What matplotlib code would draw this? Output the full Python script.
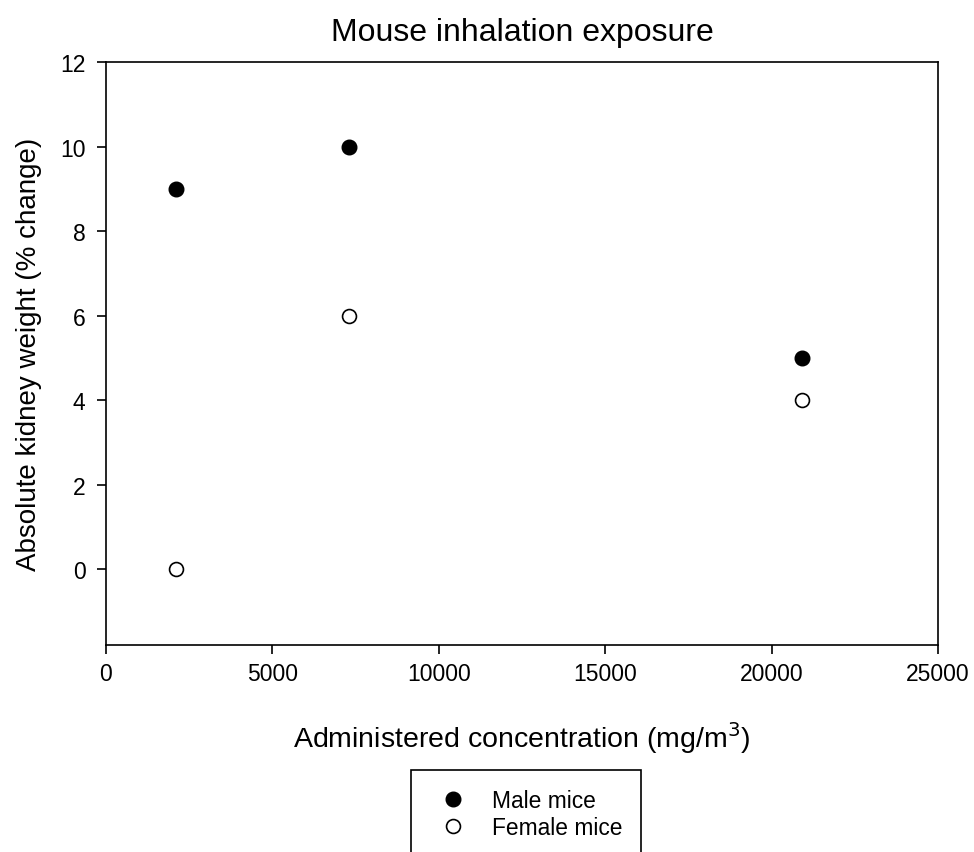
import matplotlib
matplotlib.use("Agg")
import matplotlib.pyplot as plt
from matplotlib.patches import Rectangle

plt.rcParams['font.family'] = ['Liberation Sans', 'DejaVu Sans']

# data
conc = [2100, 7300, 20900]
male = [9, 10, 5]
female = [0, 6, 4]
xticks = [0, 5000, 10000, 15000, 20000, 25000]
yticks = [0, 2, 4, 6, 8, 10, 12]

fig = plt.figure(figsize=(9.74, 8.53), dpi=100)
ax = fig.add_axes([0.1085, 0.2427, 0.8547, 0.6831])

ax.plot(conc, male, 'o', color='black', markersize=10.5, label='Male mice')
ax.plot(conc, female, 'o', markerfacecolor='white', markeredgecolor='black',
        markeredgewidth=1.2, markersize=10, label='Female mice')

ax.set_xlim(0, 25000)
ax.set_ylim(-1.8, 12)
ax.set_xticks(xticks)
ax.set_yticks(yticks)
ax.tick_params(direction='out', length=6.5, width=1.2, labelsize=16.5)
ax.tick_params(axis='x', pad=6)
ax.tick_params(axis='y', pad=8)
for s in ax.spines.values():
    s.set_linewidth(1.2)

ax.set_title('Mouse inhalation exposure', fontsize=23, pad=16)
ax.set_xlabel('Administered concentration (mg/m$^3$)', fontsize=20.5, labelpad=24)
ax.set_ylabel('Absolute kidney weight (% change)', fontsize=20, labelpad=13)

# legend box runs off the bottom of the figure
box = Rectangle((410.7 / 974, -0.05), (641 - 410.7) / 974, (0.05 + 1 - 770.7 / 853),
                transform=fig.transFigure, fill=False, edgecolor='black',
                linewidth=1.2, clip_on=False)
fig.patches.append(box)
fig.legend(loc='upper left', bbox_to_anchor=(0.453, 0.0734), frameon=False,
           fontsize=16.4, handletextpad=1.25, labelspacing=0.15, borderpad=0,
           handlelength=1.0, borderaxespad=0)

fig.savefig('out.png', dpi=100)
